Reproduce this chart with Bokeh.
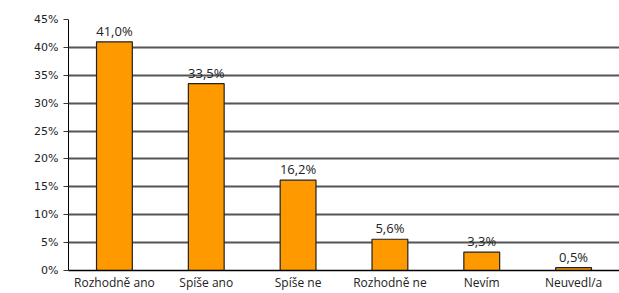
from bokeh.plotting import figure
from bokeh.models import ColumnDataSource, FactorRange, Range1d, FixedTicker
from bokeh.core.properties import value
from bokeh.embed import file_html
from bokeh.resources import INLINE

categories = ["Rozhodně ano", "Spíše ano", "Spíše ne", "Rozhodně ne", "Nevím", "Neuvedl/a"]
values = [41.0, 33.5, 16.2, 5.6, 3.3, 0.5]
value_labels = ["41,0%", "33,5%", "16,2%", "5,6%", "3,3%", "0,5%"]
y_ticks = [0, 5, 10, 15, 20, 25, 30, 35, 40, 45]
y_tick_labels = ["0%", "5%", "10%", "15%", "20%", "25%", "30%", "35%", "40%", "45%"]

src = ColumnDataSource(dict(cat=categories, val=values, lab=value_labels))

p = figure(width=619, height=293, output_backend="svg", toolbar_location=None,
           x_range=FactorRange(*categories, range_padding=0), y_range=Range1d(0, 45),
           min_border_left=68, min_border_right=0, min_border_top=19, min_border_bottom=23)
p.outline_line_color = None
p.background_fill_color = "white"

p.xgrid.grid_line_color = None
p.ygrid.grid_line_color = "#555555"
p.ygrid.grid_line_width = 1.8

p.vbar(x="cat", top="val", width=0.39, source=src, fill_color="#FF9900",
       line_color="#222222", line_width=1.2)
p.text(x="cat", y="val", text="lab", source=src, text_align="center",
       text_baseline="bottom", y_offset=-2, text_font=value("Open Sans"),
       text_font_size="13px", text_color="#222222")

yax = p.yaxis[0]
yax.ticker = FixedTicker(ticks=y_ticks)
yax.major_label_overrides = {t: l for t, l in zip(y_ticks, y_tick_labels)}
yax.major_tick_out = 5
yax.major_tick_in = 0
yax.minor_tick_out = 0
yax.minor_tick_in = 0
yax.axis_line_color = "black"
yax.major_tick_line_color = "#3a3a3a"
yax.major_label_text_font = "DejaVu Sans"
yax.major_label_text_font_size = "11px"
yax.major_label_text_color = "#222222"
yax.major_label_standoff = 5

xax = p.xaxis[0]
xax.major_tick_out = 0
xax.major_tick_in = 0
xax.axis_line_color = "black"
xax.axis_line_width = 1.5
xax.major_label_text_font = "Open Sans"
xax.major_label_text_font_size = "12px"
xax.major_label_text_color = "#222222"
xax.major_label_standoff = 3

open("out.html", "w").write(file_html(p, INLINE))
